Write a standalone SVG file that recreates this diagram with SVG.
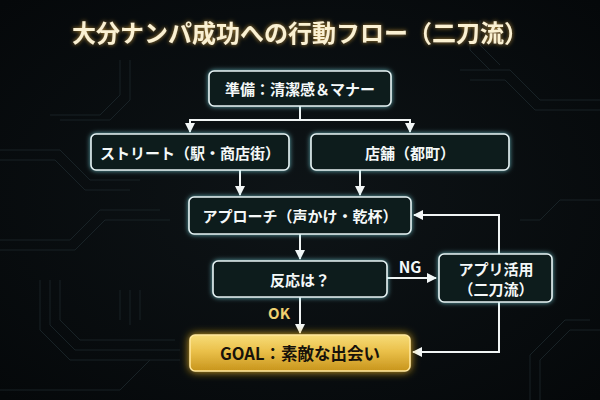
<svg xmlns="http://www.w3.org/2000/svg" width="600" height="400" viewBox="0 0 600 400">
  <defs>
    <radialGradient id="bg" cx="50%" cy="50%" r="70%">
      <stop offset="0" stop-color="#0e1417"/>
      <stop offset="1" stop-color="#05080a"/>
    </radialGradient>
    <linearGradient id="gold" x1="0" y1="0" x2="0" y2="1">
      <stop offset="0" stop-color="#f7dc78"/>
      <stop offset="0.45" stop-color="#eac04a"/>
      <stop offset="1" stop-color="#c8951c"/>
    </linearGradient>
    <filter id="glow" x="-20%" y="-40%" width="140%" height="180%">
      <feGaussianBlur in="SourceAlpha" stdDeviation="2.5" result="b"/>
      <feFlood flood-color="#7fdfe8" flood-opacity="0.75"/>
      <feComposite operator="in" in2="b" result="g"/>
      <feMerge><feMergeNode in="g"/><feMergeNode in="SourceGraphic"/></feMerge>
    </filter>
    <filter id="goldglow" x="-20%" y="-50%" width="140%" height="200%">
      <feGaussianBlur in="SourceAlpha" stdDeviation="4" result="b"/>
      <feFlood flood-color="#f0b820" flood-opacity="0.9"/>
      <feComposite operator="in" in2="b" result="g"/>
      <feMerge><feMergeNode in="g"/><feMergeNode in="SourceGraphic"/></feMerge>
    </filter>
    <filter id="titleglow" x="-10%" y="-50%" width="120%" height="200%">
      <feGaussianBlur in="SourceAlpha" stdDeviation="2" result="b"/>
      <feFlood flood-color="#c99a3a" flood-opacity="0.9"/>
      <feComposite operator="in" in2="b" result="g"/>
      <feMerge><feMergeNode in="g"/><feMergeNode in="SourceGraphic"/></feMerge>
    </filter>
    <marker id="arrow" markerUnits="userSpaceOnUse" markerWidth="12" markerHeight="12" viewBox="0 0 12 12" refX="10" refY="6" orient="auto">
      <path d="M1,1 L11,6 L1,11 Z" fill="#f2f6f6"/>
    </marker>
    <style>
      text { font-family: "Noto Sans CJK JP", "Noto Sans", sans-serif; font-weight: 700; text-anchor: middle; dominant-baseline: central; }
      .box rect { fill: #111a1f; stroke: #e6f4f4; stroke-width: 1.6; }
      .box text { fill: #f4f8f8; font-size: 15px; }
      .conn path { fill: none; stroke: #f0f4f4; stroke-width: 2; }
      .trace { fill: none; stroke: #1a2529; stroke-width: 1; }
    </style>
  </defs>

  <rect width="600" height="400" fill="url(#bg)"/>

  <g id="background-traces" class="trace" opacity="0.9">
    <path d="M0,150 H60 L90,180 H140"/>
    <path d="M0,160 H55 L85,190 H130"/>
    <path d="M0,240 H70 L100,210 H160"/>
    <path d="M0,250 H75 L105,220 H170"/>
    <path d="M40,280 V330 L70,360 H180"/>
    <path d="M50,280 V325 L75,350 H180"/>
    <path d="M60,280 V320 L80,340 H175"/>
    <path d="M120,290 V320 M130,290 V325 M140,290 V320"/>
    <path d="M0,390 H120 L150,360"/>
    <path d="M600,100 H540 L510,70 H460"/>
    <path d="M600,110 H535 L505,80 H470"/>
    <path d="M600,200 H560 L540,220 H520"/>
    <path d="M600,330 H570 L540,360 V400"/>
    <path d="M590,320 H565 L530,355 V400"/>
    <path d="M470,20 V50 L490,70"/>
    <path d="M480,20 V45 L500,65"/>
    <path d="M130,60 V100 L110,120 H60"/>
    <path d="M120,60 V95 L100,115 H50"/>
  </g>

  <text x="300" y="31" font-size="24" fill="#fbf1d2" filter="url(#titleglow)">大分ナンパ成功への行動フロー（二刀流）</text>

  <g id="connectors" class="conn">
    <path d="M300,106 V120"/>
    <path d="M189,120 H411"/>
    <path d="M190,120 V132" marker-end="url(#arrow)"/>
    <path d="M410,120 V132" marker-end="url(#arrow)"/>
    <path d="M240,170 V195" marker-end="url(#arrow)"/>
    <path d="M360,170 V195" marker-end="url(#arrow)"/>
    <path d="M300,234 V259" marker-end="url(#arrow)"/>
    <path d="M387,278 H436" marker-end="url(#arrow)"/>
    <path d="M499,254 V215 H414" marker-end="url(#arrow)"/>
    <path d="M300,297 V333" marker-end="url(#arrow)"/>
    <path d="M499,302 V352 H413" marker-end="url(#arrow)"/>
    <text x="410" y="266" font-size="15.5" fill="#f4f8f8">NG</text>
    <text x="279" y="312" font-size="15" fill="#f0d070">OK</text>
  </g>

  <g id="prep" class="box">
    <rect x="209" y="71" width="182" height="35" rx="5" filter="url(#glow)"/>
    <text x="300" y="88.5">準備：清潔感＆マナー</text>
  </g>
  <g id="street" class="box">
    <rect x="91" y="134" width="198" height="36" rx="5" filter="url(#glow)"/>
    <text x="190" y="152">ストリート（駅・商店街）</text>
  </g>
  <g id="store" class="box">
    <rect x="311" y="134" width="198" height="36" rx="5" filter="url(#glow)"/>
    <text x="410" y="152">店舗（都町）</text>
  </g>
  <g id="approach" class="box">
    <rect x="189" y="197" width="222" height="37" rx="5" filter="url(#glow)"/>
    <text x="300" y="215.5">アプローチ（声かけ・乾杯）</text>
  </g>
  <g id="reaction" class="box">
    <rect x="213" y="261" width="174" height="36" rx="5" filter="url(#glow)"/>
    <text x="300" y="279">反応は？</text>
  </g>
  <g id="app" class="box">
    <rect x="439" y="254" width="113" height="48" rx="5" filter="url(#glow)"/>
    <text x="496" y="268">アプリ活用</text>
    <text x="496" y="288">（二刀流）</text>
  </g>
  <g id="goal">
    <rect x="190" y="335" width="220" height="36" rx="5" fill="url(#gold)" stroke="#ffe79a" stroke-width="1.6" filter="url(#goldglow)"/>
    <text x="300" y="353" font-size="16.5" fill="#17120a">GOAL：素敵な出会い</text>
  </g>
</svg>
